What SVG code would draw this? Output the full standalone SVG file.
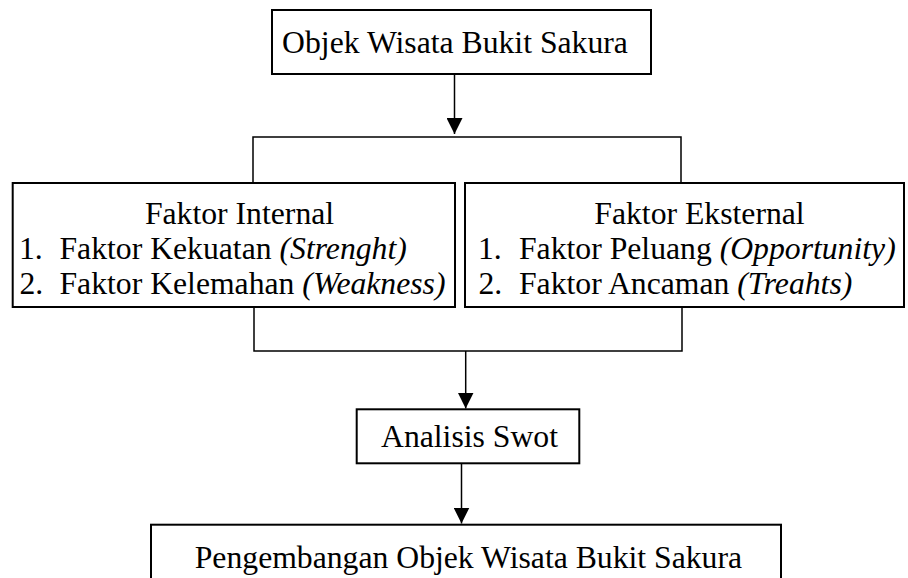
<svg xmlns="http://www.w3.org/2000/svg" width="908" height="578" viewBox="0 0 908 578">
<style>
.box{fill:#fff;stroke:#000;stroke-width:2}
.ln{fill:none;stroke:#000;stroke-width:1.5}
text{font-family:"Liberation Serif","Times New Roman",serif;font-size:31.7px;fill:#000}
.c{text-anchor:middle}
.i{font-style:italic}
</style>
<defs>
<marker id="ah" markerUnits="userSpaceOnUse" markerWidth="16" markerHeight="16" viewBox="0 0 14 14" refX="14" refY="7" orient="auto">
<path d="M0,0 L14,7 L0,14 Z" fill="#000"/>
</marker>
</defs>
<rect width="908" height="578" fill="#fff"/>
<g id="connectors">
<line class="ln" x1="454.5" y1="74" x2="454.5" y2="134" marker-end="url(#ah)"/>
<polyline class="ln" points="253,183 253,137 681,137 681,183"/>
<polyline class="ln" points="254,307 254,351 682,351 682,307"/>
<line class="ln" x1="465.7" y1="351" x2="465.7" y2="408.5" marker-end="url(#ah)"/>
<line class="ln" x1="461.5" y1="463.3" x2="461.5" y2="523.5" marker-end="url(#ah)"/>
</g>
<g id="node-objek">
<rect class="box" x="272" y="10" width="379" height="64"/>
<text class="c" x="455" y="53">Objek Wisata Bukit Sakura</text>
</g>
<g id="node-internal">
<rect class="box" x="12.7" y="183" width="442.3" height="124"/>
<text class="c" x="239.5" y="223.5">Faktor Internal</text>
<text y="258.5"><tspan x="19">1.</tspan><tspan x="59.5">Faktor Kekuatan </tspan><tspan class="i">(Strenght)</tspan></text>
<text y="293.5"><tspan x="19.5">2.</tspan><tspan x="59.5">Faktor Kelemahan </tspan><tspan class="i">(Weakness)</tspan></text>
</g>
<g id="node-eksternal">
<rect class="box" x="465" y="183" width="439" height="124"/>
<text class="c" x="699.5" y="223.5">Faktor Eksternal</text>
<text y="258.5"><tspan x="478">1.</tspan><tspan x="519">Faktor Peluang </tspan><tspan class="i">(Opportunity)</tspan></text>
<text y="293.5"><tspan x="478.5">2.</tspan><tspan x="519">Faktor Ancaman </tspan><tspan class="i">(Treahts)</tspan></text>
</g>
<g id="node-swot">
<rect class="box" x="356.7" y="409.3" width="222.6" height="54"/>
<text class="c" x="469.5" y="446.7">Analisis Swot</text>
</g>
<g id="node-pengembangan">
<rect class="box" x="151" y="524.7" width="630" height="80"/>
<text class="c" x="468.4" y="568">Pengembangan Objek Wisata Bukit Sakura</text>
</g>
</svg>
